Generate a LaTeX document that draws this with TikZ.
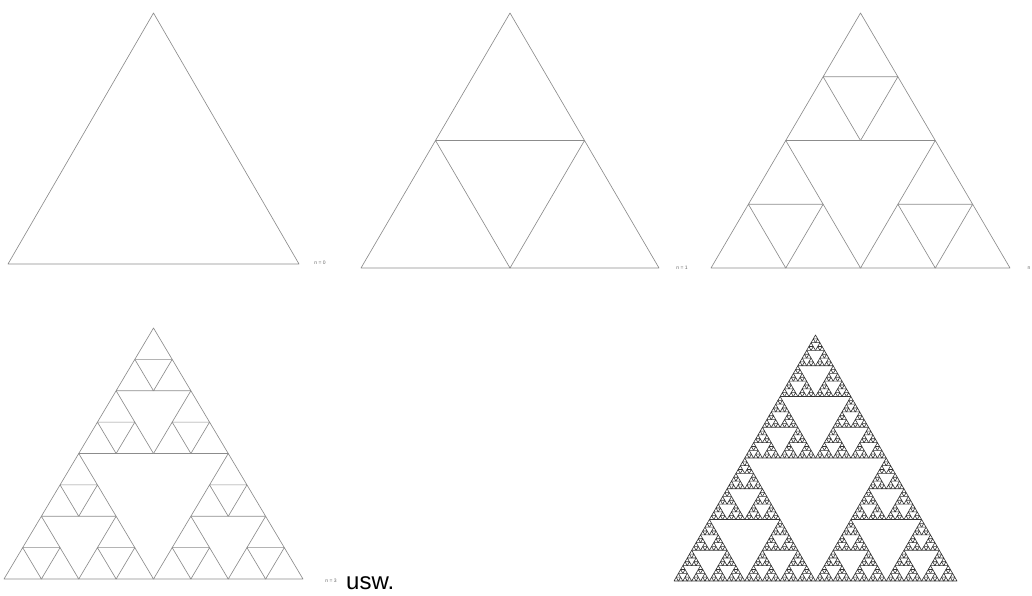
\documentclass[tikz,border=0pt]{standalone}
\usepackage{fontspec}
\setmainfont{Liberation Sans}
\usetikzlibrary{positioning}

% one level of the Sierpinski construction in the unit triangle (0,0)-(1,0)-(0.5,1)
\newcommand\sierpinski[2]{%
  \ifnum#1=0
    \draw[#2] (0,0) -- (1,0) -- (0.5,1) -- cycle;
  \else
    \pgfmathtruncatemacro\sublevel{#1-1}%
    \begin{scope}[scale=0.5] \sierpinski{\sublevel}{#2} \end{scope}
    \begin{scope}[shift={(0.5,0)}, scale=0.5] \sierpinski{\sublevel}{#2} \end{scope}
    \begin{scope}[shift={(0.25,0.5)}, scale=0.5] \sierpinski{\sublevel}{#2} \end{scope}
  \fi}

\begin{document}
\begin{tikzpicture}[
  x=1pt, y=-1pt,
  tri/.style={draw=black!45, line width=0.65pt, line join=round},
  dense/.style={draw=black!80, line width=0.6pt, line join=round},
  step label/.style={font=\fontsize{5}{6}\selectfont, text=black!60, inner sep=0pt},
]

\useasboundingbox (0,0) rectangle (1032,595);

% === n = 0 ===
\begin{scope}[shift={(8,264)}, x={(291pt,0pt)}, y={(0pt,251pt)}]
  \sierpinski{0}{tri}
\end{scope}
\node[step label] (n0) at (320,263) {n = 0};

% === n = 1 ===
\begin{scope}[shift={(361,268)}, x={(298pt,0pt)}, y={(0pt,255pt)}]
  \sierpinski{1}{tri}
\end{scope}
\node[step label] (n1) at (682,268) {n = 1};

% === n = 2 ===
\begin{scope}[shift={(711,268)}, x={(299pt,0pt)}, y={(0pt,255pt)}]
  \sierpinski{2}{tri}
\end{scope}
\node[step label] (n2) at (1029,268) {n};

% === n = 3 ===
\begin{scope}[shift={(4,579)}, x={(299pt,0pt)}, y={(0pt,251pt)}]
  \sierpinski{3}{tri}
\end{scope}
\node[step label] (n3) at (331,581) {n = 3};
\node[font=\fontsize{24}{26}\selectfont, anchor=base west, inner sep=0pt] (usw) at (346,589) {usw.};

% === limit ===
\begin{scope}[shift={(674,581)}, x={(283pt,0pt)}, y={(0pt,246pt)}]
  \sierpinski{6}{dense}
\end{scope}

\end{tikzpicture}
\end{document}
